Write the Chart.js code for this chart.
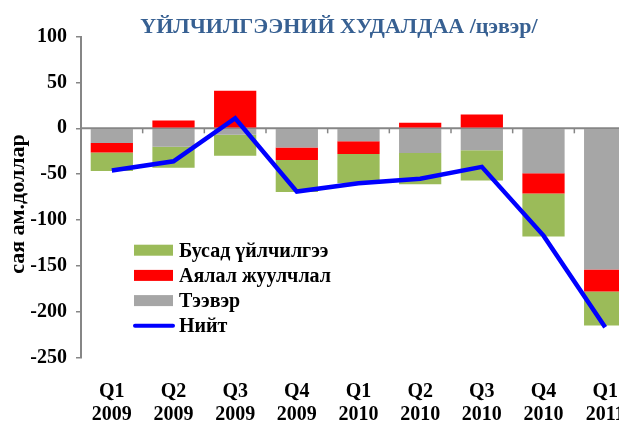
<!DOCTYPE html>
<html>
<head>
<meta charset="utf-8">
<script src="https://cdn.jsdelivr.net/npm/chart.js@4/dist/chart.umd.min.js"></script>
<style>
    html, body { margin: 0; padding: 0; background: #fff; overflow: hidden; width: 619px; height: 422px; }
    #wrap { width: 619px; height: 422px; overflow: hidden; position: relative; }
    #chartdispArea { position: absolute; left: 0; top: 0; }
</style>
</head>
<body>
<div id="wrap">
<canvas id="chartdispArea" width="640" height="422"></canvas>
</div>
<script>
var quarters = [['Q1', '2009'], ['Q2', '2009'], ['Q3', '2009'], ['Q4', '2009'],
    ['Q1', '2010'], ['Q2', '2010'], ['Q3', '2010'], ['Q4', '2010'], ['Q1', '2011']];
var transport = [-16, -20, -7, -21, -14, -27, -24, -49, -154];
var travel = [-10.5, 8.5, 41, -13.5, -14, 6, 15, -22, -24];
var otherServices = [-20, -23, -23, -35, -32, -34, -33, -47, -37];
var total = [-46, -36, 11, -69, -60, -55, -42, -117, -217];
var yTicks = [100, 50, 0, -50, -100, -150, -200, -250];

var titleText = 'ҮЙЛЧИЛГЭЭНИЙ ХУДАЛДАА /цэвэр/';
var yTitle = 'сая ам.доллар';
var serif = "'Liberation Serif', 'Times New Roman', serif";
var axisGray = '#868686';

//zero line, small ticks on it, titles and the legend
var decorations = {
    id: 'decorations',
    afterDatasetDraw: function(chart, args) {
        if (args.index !== 2) return;
        var ctx = chart.ctx;
        var area = chart.chartArea;
        var x = chart.scales.x;
        var y0 = chart.scales.y.getPixelForValue(0);
        ctx.save();
        ctx.strokeStyle = axisGray;
        ctx.lineWidth = 2;
        ctx.beginPath();
        ctx.moveTo(area.left, y0);
        ctx.lineTo(area.right, y0);
        ctx.stroke();
        ctx.lineWidth = 1.5;
        for (var i = 1; i < quarters.length; i++) {
            var bx = (x.getPixelForValue(i - 1) + x.getPixelForValue(i)) / 2;
            ctx.beginPath();
            ctx.moveTo(bx, y0);
            ctx.lineTo(bx, y0 + 5);
            ctx.stroke();
        }
        ctx.restore();
    },
    afterDraw: function(chart) {
        var ctx = chart.ctx;
        var sets = chart.data.datasets;
        ctx.save();

        ctx.fillStyle = '#376092';
        ctx.font = 'bold 22px ' + serif;
        ctx.textAlign = 'center';
        ctx.textBaseline = 'alphabetic';
        ctx.fillText(titleText, 339, 33);

        ctx.fillStyle = '#000';
        ctx.font = 'bold 22px ' + serif;
        ctx.translate(24, 204);
        ctx.rotate(-Math.PI / 2);
        ctx.fillText(yTitle, 0, 0);
        ctx.setTransform(1, 0, 0, 1, 0, 0);

        // legend: reverse order of the stacked bars, then the line
        var items = [sets[2], sets[1], sets[0], sets[3]];
        ctx.font = 'bold 20px ' + serif;
        ctx.textAlign = 'left';
        for (var i = 0; i < items.length; i++) {
            var base = 256.7 + i * 25.2;
            var mid = base - 6.5;
            if (items[i].type === 'line') {
                ctx.strokeStyle = items[i].borderColor;
                ctx.lineWidth = 4;
                ctx.lineCap = 'round';
                ctx.beginPath();
                ctx.moveTo(135, mid);
                ctx.lineTo(173, mid);
                ctx.stroke();
            } else {
                ctx.fillStyle = items[i].backgroundColor;
                ctx.fillRect(134, mid - 5.5, 39, 11);
            }
            ctx.fillStyle = '#000';
            ctx.fillText(items[i].label, 179, base);
        }
        ctx.restore();
    }
};

var ctx = document.getElementById('chartdispArea').getContext('2d');

var myChart = new Chart(ctx, {
    type: 'bar',
    data: {
        labels: quarters,
        datasets: [
            { label: 'Тээвэр', data: transport, backgroundColor: '#A6A6A6', stack: 'bars', order: 1 },
            { label: 'Аялал жуулчлал', data: travel, backgroundColor: '#FF0000', stack: 'bars', order: 1 },
            { label: 'Бусад үйлчилгээ', data: otherServices, backgroundColor: '#9BBB59', stack: 'bars', order: 1 },
            {
                type: 'line', label: 'Нийт', data: total, stack: 'line', order: 0,
                borderColor: '#0000FF', borderWidth: 4.5, pointRadius: 0,
                tension: 0, fill: false, borderJoinStyle: 'miter'
            }
        ]
    },
    options: {
        responsive: false,
        animation: false,
        devicePixelRatio: 1,
        layout: { padding: { top: 36.6, right: 4, bottom: 0, left: 0 } },
        datasets: { bar: { categoryPercentage: 1, barPercentage: 0.685, borderWidth: 0 } },
        plugins: { legend: { display: false }, tooltip: { enabled: false } },
        scales: {
            x: {
                stacked: true,
                grid: { display: false, drawTicks: false },
                border: { display: false },
                ticks: {
                    color: '#000', maxRotation: 0, autoSkip: false, padding: 22.4,
                    font: { family: serif, size: 20, weight: 'bold', lineHeight: 1.15 }
                },
                afterFit: function(scale) {
                    scale.height = 64.4;
                    // last label is cut off by the window, like the original
                    scale.paddingLeft = 0;
                    scale.paddingRight = 0;
                }
            },
            y: {
                stacked: true,
                min: -250,
                max: 100,
                afterBuildTicks: function(scale) {
                    scale.ticks = yTicks.map(function(v) { return { value: v }; });
                },
                grid: { drawOnChartArea: false, drawTicks: true, tickLength: 5, color: axisGray, lineWidth: 1.5 },
                border: { color: axisGray, width: 2 },
                ticks: {
                    color: '#000', padding: 9,
                    font: { family: serif, size: 20, weight: 'bold' }
                },
                afterFit: function(scale) {
                    scale.width = 81;
                    scale.paddingTop = 0;
                    scale.paddingBottom = 0;
                }
            }
        }
    },
    plugins: [decorations]
});
</script>
</body>
</html>
